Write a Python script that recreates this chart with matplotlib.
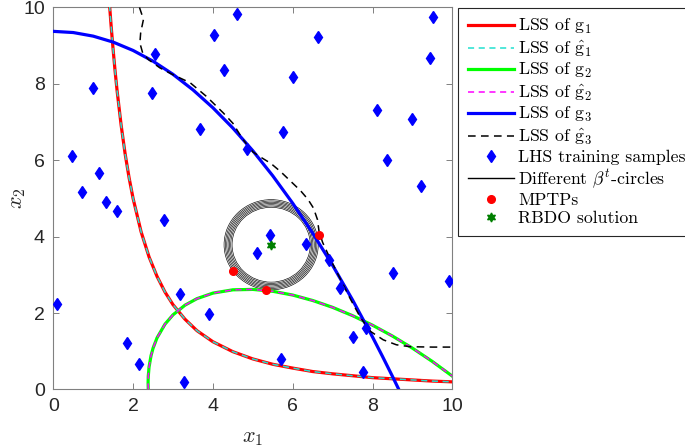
import matplotlib
matplotlib.use('Agg')
import matplotlib.pyplot as plt
from matplotlib.patches import Circle
from matplotlib.lines import Line2D

plt.rcParams['mathtext.fontset'] = 'cm'

# ---------------- data ----------------
# LSS of g1
g1_x = [1.41, 1.45, 1.5, 1.55, 1.6, 1.7, 1.8, 1.9, 2.0, 2.2, 2.4, 2.6, 2.8, 3.0, 3.3, 3.6, 4.0,
        4.5, 5.0, 5.5, 6.0, 6.5, 7.0, 7.5, 8.0, 8.5, 9.0, 9.5, 10.0]
g1_y = [10.06, 9.51, 8.89, 8.32, 7.81, 6.92, 6.17, 5.54, 5.00, 4.13, 3.47, 2.96, 2.55, 2.22, 1.84,
        1.54, 1.25, 0.99, 0.80, 0.66, 0.56, 0.47, 0.41, 0.36, 0.31, 0.28, 0.25, 0.22, 0.20]
# LSS of g1 surrogate (coincides with g1)
g1h_x = list(g1_x)
g1h_y = list(g1_y)

# LSS of g2
g2_x = [2.380, 2.376, 2.38, 2.40, 2.45, 2.5, 2.6, 2.8, 3.0, 3.3, 3.6, 4.0, 4.5, 5.0, 5.5, 6.0,
        6.5, 7.0, 7.5, 8.0, 8.5, 9.0, 9.5, 10.0]
g2_y = [0.0, 0.174, 0.343, 0.591, 0.888, 1.080, 1.352, 1.711, 1.954, 2.207, 2.378, 2.523, 2.609,
        2.620, 2.571, 2.472, 2.330, 2.150, 1.933, 1.683, 1.399, 1.083, 0.733, 0.350]
# LSS of g2 surrogate (coincides with g2)
g2h_x = list(g2_x)
g2h_y = list(g2_y)

# LSS of g3
g3_x = [0.0, 0.5, 1.0, 1.5, 2.0, 2.5, 3.0, 3.5, 4.0, 4.5, 5.0, 5.5, 6.0, 6.5, 7.0, 7.5, 8.0,
        8.25, 8.5, 8.66]
g3_y = [9.375, 9.344, 9.25, 9.094, 8.875, 8.594, 8.25, 7.844, 7.375, 6.844, 6.25, 5.594, 4.875,
        4.094, 3.25, 2.344, 1.375, 0.867, 0.344, 0.0]

# LSS of g3 surrogate
g3h_x = [2.16, 2.26, 2.19, 2.17, 2.24, 2.38, 2.67, 3.0, 3.43, 3.84, 4.26, 4.50, 4.75, 5.0, 5.2,
         5.45, 5.7, 5.95, 6.2, 6.38, 6.52, 6.62, 6.66, 6.75, 6.95, 7.2, 7.45, 7.7, 7.95, 8.27,
         8.6, 8.94, 9.5, 10.0]
g3h_y = [10.0, 9.69, 9.34, 9.07, 8.81, 8.64, 8.42, 8.24, 8.03, 7.67, 7.24, 6.97, 6.55, 6.22, 6.08,
         5.92, 5.70, 5.45, 5.20, 4.98, 4.75, 4.45, 4.14, 3.85, 3.40, 2.88, 2.36, 1.88, 1.52, 1.30,
         1.17, 1.12, 1.11, 1.11]

# LHS training samples
lhs_x = [4.60, 4.04, 2.55, 4.29, 1.00, 2.47, 3.67, 4.85, 0.48, 1.15, 0.72,
         1.31, 1.60, 2.77, 0.10, 3.18, 3.90, 1.85, 2.15, 3.27,
         9.52, 6.63, 9.43, 6.01, 8.11, 8.99, 5.76, 8.36, 9.22,
         5.43, 5.10, 6.33, 6.91, 8.52, 9.92, 7.19, 7.84, 7.50, 5.70, 7.75]
lhs_y = [9.82, 9.27, 8.79, 8.36, 7.90, 7.75, 6.83, 6.30, 6.12, 5.67, 5.18,
         4.91, 4.68, 4.43, 2.25, 2.51, 1.98, 1.23, 0.68, 0.19,
         9.76, 9.23, 8.68, 8.17, 7.31, 7.08, 6.75, 6.00, 5.33,
         4.05, 3.58, 3.80, 3.40, 3.04, 2.84, 2.65, 1.60, 1.38, 0.81, 0.47]

# beta-t circles (centre = RBDO solution)
circle_radii = [0.98, 1.013, 1.046, 1.08, 1.113, 1.146, 1.18]

# MPTPs
mptp_x = [4.51, 5.33, 6.65]
mptp_y = [3.09, 2.60, 4.05]

# RBDO solution
rbdo_x = [5.46]
rbdo_y = [3.79]

labels = [r'LSS of g$_1$', r'LSS of $\hat{\mathrm{g}}_1$',
          r'LSS of g$_2$', r'LSS of $\hat{\mathrm{g}}_2$',
          r'LSS of g$_3$', r'LSS of $\hat{\mathrm{g}}_3$',
          'LHS training samples', r'Different $\beta^t$-circles',
          'MPTPs', 'RBDO solution']

# ---------------- figure ----------------
fig = plt.figure(figsize=(6.85, 4.48), dpi=100)
ax = fig.add_axes([0.0778, 0.1306, 0.5825, 0.8527])

cyan = '#22e0d0'
h1, = ax.plot(g1_x, g1_y, color='red', lw=2.3, zorder=3)
h1h, = ax.plot(g1h_x, g1h_y, color=cyan, lw=1.1, ls=(0, (4, 3)), zorder=4)
h2, = ax.plot(g2_x, g2_y, color='#00ff00', lw=2.3, zorder=3)
h2h, = ax.plot(g2h_x, g2h_y, color='magenta', lw=1.1, ls=(0, (4, 3)), zorder=4)

for r in circle_radii:
    ax.add_patch(Circle((rbdo_x[0], rbdo_y[0]), r, fill=False, ec='black', lw=0.45, zorder=2))

h3, = ax.plot(g3_x, g3_y, color='blue', lw=2.3, zorder=5)
h3h, = ax.plot(g3h_x, g3h_y, color='black', lw=1.1, ls=(0, (5, 3.5)), zorder=6)

hs, = ax.plot(lhs_x, lhs_y, ls='none', marker='d', ms=6.5, color='blue', mec='blue', zorder=7)
hm, = ax.plot(mptp_x, mptp_y, ls='none', marker='o', ms=5.5, color='red', zorder=8)
hr, = ax.plot(rbdo_x, rbdo_y, ls='none', marker=(6, 1, 0), ms=6.5, color='#007f00', zorder=8)
hc = Line2D([], [], color='black', lw=1.0)

ax.set_xlim(0, 10)
ax.set_ylim(0, 10)
ax.set_xticks([0, 2, 4, 6, 8, 10])
ax.set_yticks([0, 2, 4, 6, 8, 10])

axc = '#262626'
for s in ax.spines.values():
    s.set_color('#808080')
    s.set_linewidth(0.8)
ax.tick_params(direction='in', length=4, width=0.7, color='#808080', top=True, right=True,
               labelsize=14, labelcolor=axc, pad=6)
for t in ax.get_xticklabels() + ax.get_yticklabels():
    t.set_fontfamily('Liberation Sans')

ax.set_xlabel(r'$x_1$', fontsize=16, color=axc, va='center')
ax.xaxis.set_label_coords(0.5, -0.127)
ax.set_ylabel(r'$x_2$', fontsize=16, color=axc, va='center', ha='center')
ax.yaxis.set_label_coords(-0.088, 0.5)

leg = fig.legend([h1, h1h, h2, h2h, h3, h3h, hs, hc, hm, hr], labels,
                 loc='upper left', bbox_to_anchor=(0.6686, 0.983),
                 prop={'family': 'cmr10', 'size': 12.8}, frameon=True, fancybox=False,
                 edgecolor='#262626', framealpha=1, handlelength=2.6, handletextpad=0.25,
                 labelspacing=0.14, borderpad=0.55, borderaxespad=0.0)
leg.get_frame().set_linewidth(0.8)

fig.savefig('out.png', dpi=100)
